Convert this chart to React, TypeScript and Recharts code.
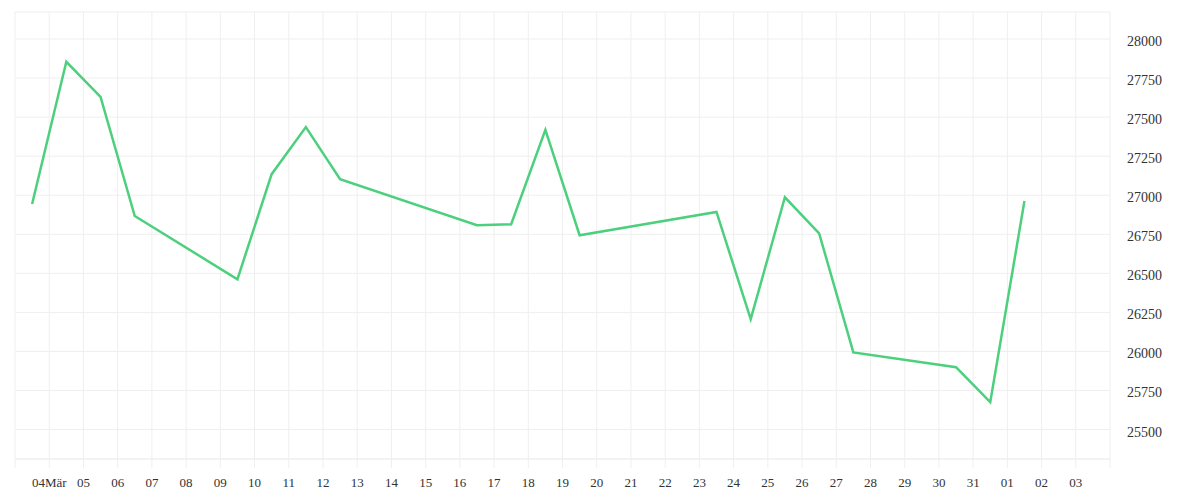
import React from 'react'
import { CartesianGrid, Line, LineChart, XAxis, YAxis } from 'recharts'

const startDate = '2020-03-03'

const dates = [
  '2020-03-03', '2020-03-04', '2020-03-05', '2020-03-06',
  '2020-03-09', '2020-03-10', '2020-03-11', '2020-03-12',
  '2020-03-16', '2020-03-17', '2020-03-18', '2020-03-19',
  '2020-03-23', '2020-03-24', '2020-03-25', '2020-03-26', '2020-03-27',
  '2020-03-30', '2020-03-31', '2020-04-01'
]

const prices = [
  26944, 27854, 27630, 26867,
  26462, 27135, 27436, 27103,
  26808, 26814, 27419, 26744,
  26893, 26207, 26987, 26756, 25994,
  25899, 25675, 26963
]

const dayLabels = [
  '', '04Mär', '05', '06', '07', '08', '09', '10', '11', '12', '13', '14', '15',
  '16', '17', '18', '19', '20', '21', '22', '23', '24', '25', '26', '27', '28',
  '29', '30', '31', '01', '02', '03', ''
]

const priceTicks = [25500, 25750, 26000, 26250, 26500, 26750, 27000, 27250, 27500, 27750, 28000]

const DAY = 86400000
const dayIndex = (d: string) => (Date.parse(d) - Date.parse(startDate)) / DAY

const data = dates.map((d, i) => ({ x: dayIndex(d) + 0.5, price: prices[i] }))
const xTicks = dayLabels.map((_, i) => i)

const font = 'Liberation Serif'

export default function App() {
  return (
    <div style={{ position: 'absolute', left: 0, top: 0, background: '#fff', fontFamily: font }}>
      <LineChart
        width={1200}
        height={500}
        data={data}
        margin={{ top: 12, right: 0, bottom: 0, left: 15 }}
        style={{ fontFamily: font }}
      >
        <CartesianGrid stroke="#efefef" strokeWidth={1} />
        <XAxis
          dataKey="x"
          type="number"
          domain={[0, dayLabels.length - 1]}
          ticks={xTicks}
          interval={0}
          tickFormatter={(v: number) => dayLabels[v] ?? ''}
          height={41}
          stroke="#efefef"
          tickSize={9}
          tickMargin={10}
          tick={{ fill: '#333', fontSize: 13, fontFamily: font }}
        />
        <YAxis
          orientation="right"
          type="number"
          domain={[25311.5, 28173]}
          ticks={priceTicks}
          interval={0}
          width={90}
          axisLine={false}
          tickLine={false}
          tickSize={6}
          tickMargin={11}
          allowDataOverflow
          tick={{ fill: '#333', fontSize: 14, fontFamily: font, textAnchor: 'start', dy: 2 }}
        />
        <Line
          dataKey="price"
          type="linear"
          stroke="#4cd07d"
          strokeWidth={2.5}
          dot={false}
          isAnimationActive={false}
        />
      </LineChart>
    </div>
  )
}
